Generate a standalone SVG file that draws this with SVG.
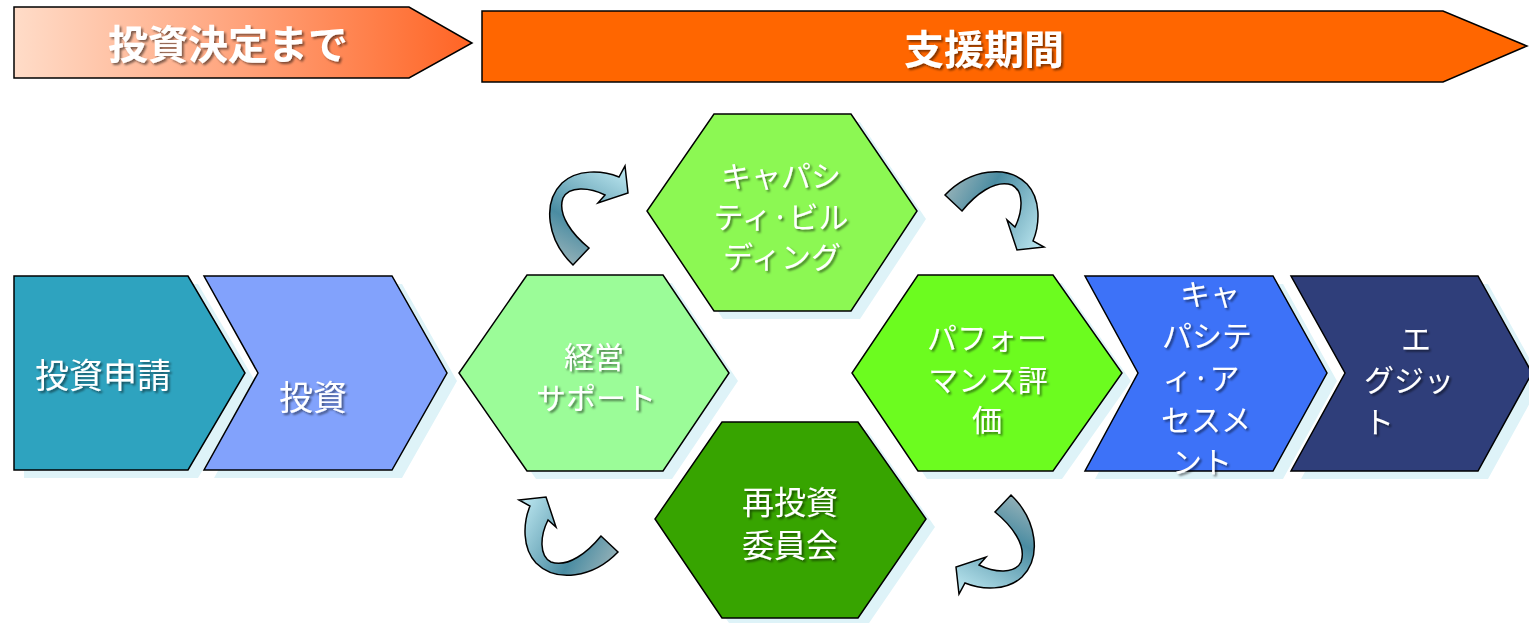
<svg xmlns="http://www.w3.org/2000/svg" width="1529" height="623" viewBox="0 0 1529 623">
<defs>
<linearGradient id="gBanner" x1="0" y1="0" x2="1" y2="0">
<stop offset="0" stop-color="#ffdcc8"/><stop offset="0.5" stop-color="#ffa27a"/><stop offset="1" stop-color="#ff6424"/>
</linearGradient>
<linearGradient id="gArrow" gradientUnits="userSpaceOnUse" x1="-10" y1="50" x2="40" y2="-40">
<stop offset="0" stop-color="#8eaeb6"/><stop offset="0.35" stop-color="#4a8ca2"/><stop offset="1" stop-color="#b6e2ec"/>
</linearGradient>
<filter id="ts" x="-10%" y="-20%" width="130%" height="150%">
<feDropShadow dx="2" dy="2" stdDeviation="1" flood-color="#000" flood-opacity="0.5"/>
</filter>
<path id="carrow" d="M -14,50 C -40,25 -45,-12 -25,-32 C -10,-46 15,-45 32,-38 L 38,-49 L 41,-22 L 11,-12 L 18,-20 C 2,-28 -18,-29 -24,-17 C -30,0 -14,20 2,33 Z"/>
</defs>
<style>
.sh{fill:#def3f8;}
.ol{stroke:#000;stroke-width:1.5;stroke-linejoin:miter;}
.t{font-family:"Noto Sans CJK JP","Noto Sans CJK SC",sans-serif;fill:#fff;text-anchor:middle;filter:url(#ts);}
.n{font-size:30px;}
.b{font-size:40px;font-weight:bold;}
.arr{fill:url(#gArrow);stroke:#000;stroke-width:1.5;stroke-linejoin:miter;}
</style>
<rect width="1529" height="623" fill="#fff"/>

<g id="banner-before">
<polygon class="ol" fill="url(#gBanner)" points="14,7 409,7 472,43 409,78 14,78"/>
<text class="t b" x="228" y="59">投資決定まで</text>
</g>
<g id="banner-support">
<polygon class="ol" fill="#ff6600" points="482,11 1443,11 1527,46 1443,82 482,82"/>
<text class="t b" x="984" y="64">支援期間</text>
</g>

<g id="step-apply">
<polygon class="sh" points="24,284 198,284 255,381 198,478 24,478"/>
<polygon class="ol" fill="#2ea3bf" points="14,276 188,276 245,373 188,470 14,470"/>
<text class="t" x="103" y="388" font-size="34">投資申請</text>
</g>
<g id="step-invest">
<polygon class="sh" points="214,284 402,284 457,381 402,478 214,478 268,381"/>
<polygon class="ol" fill="#82a2fc" points="204,276 392,276 447,373 392,470 204,470 258,373"/>
<text class="t" x="313" y="410" font-size="34">投資</text>
</g>

<g id="hex-management">
<polygon class="sh" points="536,283 672,283 738,381 672,479 536,479 468,381"/>
<polygon class="ol" fill="#9bfc98" points="527,275 663,275 729,373 663,471 527,471 459,373"/>
<text class="t n" x="594" y="368">経営</text>
<text class="t n" x="596" y="409">サポート</text>
</g>
<g id="hex-capacity">
<polygon class="sh" points="723,122 860,122 926,219 860,319 723,319 656,219"/>
<polygon class="ol" fill="#8cf853" points="714,114 851,114 917,211 851,311 714,311 647,211"/>
<text class="t n" x="781" y="187">キャパシ</text>
<text class="t n" x="781" y="228">ティ·ビル</text>
<text class="t n" x="782" y="268">ディング</text>
</g>
<g id="hex-performance">
<polygon class="sh" points="927,283 1062,283 1131,381 1062,479 927,479 861,381"/>
<polygon class="ol" fill="#6cfc1f" points="918,275 1053,275 1122,373 1053,471 918,471 852,373"/>
<text class="t n" x="987" y="349">パフォー</text>
<text class="t n" x="988" y="391">マンス評</text>
<text class="t n" x="987" y="431">価</text>
</g>
<g id="hex-reinvest">
<polygon class="sh" points="731,430 867,430 935,527 867,626 731,626 664,527"/>
<polygon class="ol" fill="#37a400" points="722,422 858,422 926,519 858,618 722,618 655,519"/>
<text class="t" x="790" y="514" font-size="32">再投資</text>
<text class="t" x="790" y="557" font-size="32">委員会</text>
</g>

<g id="step-assessment">
<polygon class="sh" points="1095,284 1283,284 1337,381 1283,479 1095,479 1148,381"/>
<polygon class="ol" fill="#3d72f8" points="1085,276 1273,276 1327,373 1273,471 1085,471 1138,373"/>
<text class="t n" x="1210" y="305">キャ</text>
<text class="t n" x="1207" y="347">パシテ</text>
<text class="t n" x="1201" y="389">ィ·ア</text>
<text class="t n" x="1206" y="431">セスメ</text>
<text class="t n" x="1202" y="473">ント</text>
</g>
<g id="step-exit">
<polygon class="sh" points="1301,284 1488,284 1542,381 1488,479 1301,479 1355,381"/>
<polygon class="ol" fill="#2f3e7a" points="1291,276 1478,276 1532,373 1478,471 1291,471 1345,373"/>
<text class="t n" x="1416" y="350">エ</text>
<text class="t n" x="1409" y="391">グジッ</text>
<text class="t n" x="1364" y="433" style="text-anchor:start">ト</text>
</g>

<g id="connectors">
<use href="#carrow" class="arr" transform="translate(587,215)"/>
<use href="#carrow" class="arr" transform="translate(995,209) rotate(90)"/>
<use href="#carrow" class="arr" transform="translate(997,545) rotate(180)"/>
<use href="#carrow" class="arr" transform="translate(568,538) rotate(270)"/>
</g>
</svg>
